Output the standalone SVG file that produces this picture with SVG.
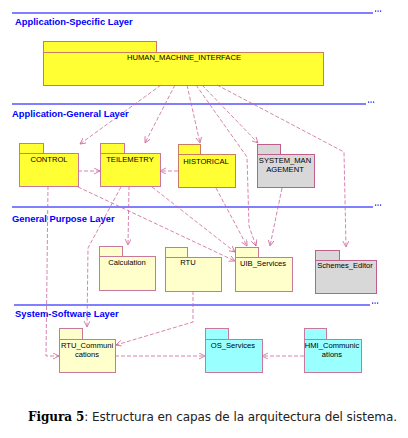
<svg xmlns="http://www.w3.org/2000/svg" width="408" height="438" viewBox="0 0 408 438">
<style>
.bg{fill:#ffffff}
.layer{stroke:#0000ff;stroke-width:1.2;fill:none}
.dots{fill:#0000ff}
.ltitle{font-family:"Liberation Sans",Arial,sans-serif;font-size:9.4px;font-weight:bold;fill:#0000ff}
.lbl{font-family:"Liberation Sans",Arial,sans-serif;font-size:7.6px;fill:#000;text-anchor:middle}
.y1{fill:#ffff33;stroke:#cc7a60;stroke-width:1}
.y2{fill:#ffff33;stroke:#c8789a;stroke-width:1}
.ly{fill:#ffffcc;stroke:#c8789a;stroke-width:1}
.gr{fill:#d8d8d8;stroke:#c0608a;stroke-width:1}
.cy{fill:#99ffff;stroke:#c8789a;stroke-width:1}
.con{fill:none;stroke:#cc6699;stroke-width:0.8;stroke-dasharray:4,2;marker-end:url(#ah)}
.cap{font-family:"DejaVu Sans","Liberation Sans",sans-serif;font-size:12px;fill:#222}
.capb{font-family:"DejaVu Serif","Liberation Serif",serif;font-weight:bold;fill:#000}
</style>
<defs>
<marker id="ah" markerWidth="8" markerHeight="8" refX="6" refY="3" orient="auto" markerUnits="userSpaceOnUse">
<path d="M0,0 L6,3 L0,6" fill="none" stroke="#cc6699" stroke-width="0.8"/>
</marker>
</defs>
<rect class="bg" x="0" y="0" width="408" height="438"/>

<g id="layers">
<line class="layer" x1="12" y1="13" x2="373" y2="13"/>
<rect class="dots" x="375" y="10.5" width="1.2" height="1.2"/><rect class="dots" x="377.5" y="10.5" width="1.2" height="1.2"/><rect class="dots" x="380" y="10.5" width="1.2" height="1.2"/>
<text class="ltitle" x="15" y="25">Application-Specific Layer</text>
<line class="layer" x1="12" y1="104" x2="366" y2="104"/>
<rect class="dots" x="368" y="101.5" width="1.2" height="1.2"/><rect class="dots" x="370.5" y="101.5" width="1.2" height="1.2"/><rect class="dots" x="373" y="101.5" width="1.2" height="1.2"/>
<text class="ltitle" x="12" y="117">Application-General Layer</text>
<line class="layer" x1="12" y1="207" x2="373" y2="207"/>
<rect class="dots" x="375" y="204.5" width="1.2" height="1.2"/><rect class="dots" x="377.5" y="204.5" width="1.2" height="1.2"/><rect class="dots" x="380" y="204.5" width="1.2" height="1.2"/>
<text class="ltitle" x="12" y="222">General Purpose Layer</text>
<line class="layer" x1="14" y1="305" x2="370" y2="305"/>
<rect class="dots" x="372" y="302.5" width="1.2" height="1.2"/><rect class="dots" x="374.5" y="302.5" width="1.2" height="1.2"/><rect class="dots" x="377" y="302.5" width="1.2" height="1.2"/>
<text class="ltitle" x="15" y="317">System-Software Layer</text>
</g>

<g id="hmi">
<rect class="y1" x="43.5" y="41.5" width="113" height="11"/>
<rect class="y1" x="43.5" y="52.5" width="280" height="33"/>
<text class="lbl" x="184" y="60">HUMAN_MACHINE_INTERFACE</text>
</g>

<g id="control">
<rect class="y2" x="19.5" y="143.5" width="24" height="10"/>
<rect class="y2" x="19.5" y="153.5" width="59" height="33"/>
<text class="lbl" x="49" y="162">CONTROL</text>
</g>

<g id="telemetry">
<rect class="y2" x="100.5" y="143.5" width="24" height="10"/>
<rect class="y2" x="100.5" y="153.5" width="60" height="33"/>
<text class="lbl" x="130" y="162">TEILEMETRY</text>
</g>

<g id="historical">
<rect class="y1" x="178.5" y="144.5" width="22" height="10"/>
<rect class="y1" x="178.5" y="154.5" width="57" height="33"/>
<text class="lbl" x="206" y="164">HISTORICAL</text>
</g>

<g id="system_management">
<rect class="gr" x="257.5" y="144.5" width="23" height="10"/>
<rect class="gr" x="257.5" y="154.5" width="57" height="33"/>
<text class="lbl" x="285" y="163">SYSTEM_MAN</text>
<text class="lbl" x="285" y="172">AGEMENT</text>
</g>

<g id="calculation">
<rect class="ly" x="99.5" y="246.5" width="23" height="10"/>
<rect class="ly" x="99.5" y="256.5" width="56" height="34"/>
<text class="lbl" x="127" y="265">Calculation</text>
</g>

<g id="rtu">
<rect class="ly" x="165.5" y="247.5" width="22" height="10"/>
<rect class="ly" x="165.5" y="257.5" width="56" height="34"/>
<text class="lbl" x="188" y="265">RTU</text>
</g>

<g id="uib_services">
<rect class="ly" x="235.5" y="247.5" width="23" height="10"/>
<rect class="ly" x="235.5" y="257.5" width="57" height="34"/>
<text class="lbl" x="263" y="266">UIB_Services</text>
</g>

<g id="schemes_editor">
<rect class="gr" x="315.5" y="250.5" width="24" height="10"/>
<rect class="gr" x="315.5" y="260.5" width="61" height="33"/>
<text class="lbl" x="345" y="268">Schemes_Editor</text>
</g>

<g id="rtu_communications">
<rect class="ly" x="59.5" y="328.5" width="23" height="11"/>
<rect class="ly" x="59.5" y="339.5" width="56" height="33"/>
<text class="lbl" x="87" y="348">RTU_Communi</text>
<text class="lbl" x="87" y="357">cations</text>
</g>

<g id="os_services">
<rect class="cy" x="205.5" y="328.5" width="23" height="11"/>
<rect class="cy" x="205.5" y="339.5" width="57" height="33"/>
<text class="lbl" x="233" y="348">OS_Services</text>
</g>

<g id="hmi_communications">
<rect class="cy" x="304.5" y="328.5" width="22" height="11"/>
<rect class="cy" x="304.5" y="339.5" width="57" height="33"/>
<text class="lbl" x="332" y="348">HMI_Communic</text>
<text class="lbl" x="332" y="357">ations</text>
</g>

<g id="connectors">
<path class="con" d="M161,85 L80,144"/>
<path class="con" d="M175,85 L145,143"/>
<path class="con" d="M187,85 L200,143"/>
<path class="con" d="M196,85 L247,157 L249,226 L256,246"/>
<path class="con" d="M202,85 L258,143"/>
<path class="con" d="M217,85 L344,152 L346,247"/>
<path class="con" d="M78,171 L100,171"/>
<path class="con" d="M48,186 L46,356 L59,356"/>
<path class="con" d="M78,187 L235,261"/>
<path class="con" d="M121,187 L88,248 L87,327"/>
<path class="con" d="M129,186 L128,245"/>
<path class="con" d="M152,187 L235,252"/>
<path class="con" d="M178,171 L160,171"/>
<path class="con" d="M216,188 L247,246"/>
<path class="con" d="M282,188 L270,246"/>
<path class="con" d="M193,291 L193,322 L116,345"/>
<path class="con" d="M115,356 L205,356"/>
<path class="con" d="M304,356 L262,356"/>
</g>

<text class="cap" x="28" y="421" textLength="369" lengthAdjust="spacing"><tspan class="capb">Figura 5</tspan>: Estructura en capas de la arquitectura del sistema.</text>
</svg>
